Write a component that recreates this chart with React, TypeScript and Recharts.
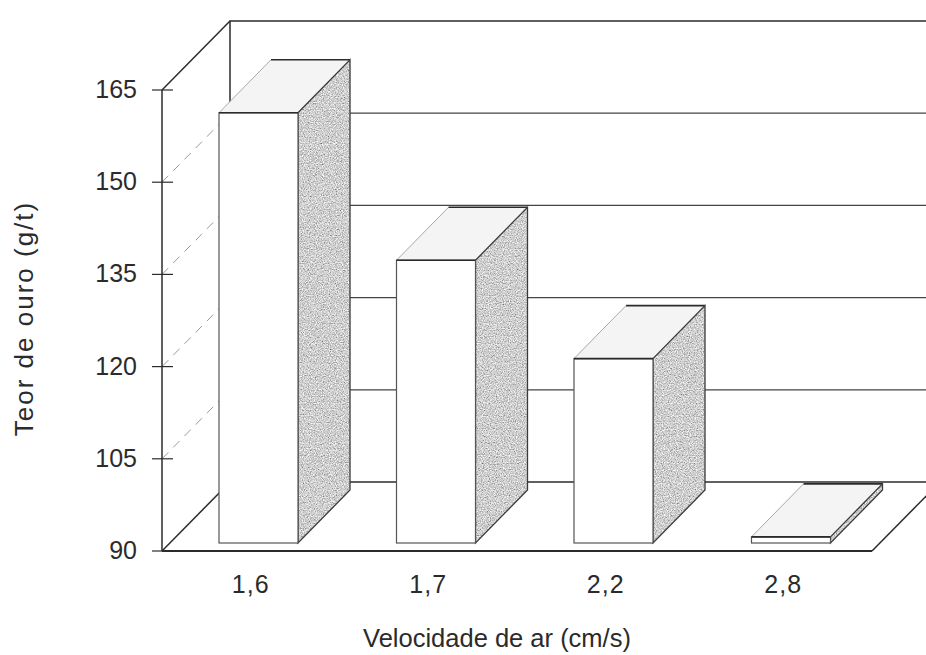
import React from "react";
import { BarChart, Bar, XAxis, YAxis, ReferenceArea, ReferenceLine } from "recharts";

// Teor de ouro no concentrado para cada velocidade de ar
const velocidades = ["1,6", "1,7", "2,2", "2,8"];
const teorOuro = [160, 136, 120, 91];
const yTicks = [90, 105, 120, 135, 150, 165];
const gridValues = [105, 120, 135, 150];

const data = velocidades.map((v, i) => ({ vel: v, teor: teorOuro[i] }));

const FONT = "'Liberation Sans', Arial, sans-serif";
const INK = "#2b2b2b";

// depth of the box (side wall / floor) and of the bars
const WALL_DX = 68;
const WALL_DY = -69;
const BAR_OFF = 8;
const BAR_DX = 52;
const BAR_DY = -53;

// walls + floor outline, drawn from the plot rectangle
const Frame = (props: any) => {
  const { x, y, width, height } = props;
  const x0 = x;
  const x1 = x + width;
  const yTop = y;
  const yBot = y + height;
  const bx0 = x0 + WALL_DX;
  const bx1 = x1 + WALL_DX;
  const byTop = yTop + WALL_DY;
  const byBot = yBot + WALL_DY;
  return (
    <g>
      <defs>
        <filter id="grain" filterUnits="objectBoundingBox" x="0" y="0" width="1" height="1">
          <feTurbulence type="fractalNoise" baseFrequency="0.85" numOctaves="2" seed="7" result="noise" />
          <feColorMatrix
            in="noise"
            type="matrix"
            values="1.2 0 0 0 0.02  1.2 0 0 0 0.02  1.2 0 0 0 0.02  0 0 0 0 1"
            result="gray"
          />
          <feComposite in="gray" in2="SourceGraphic" operator="in" />
        </filter>
      </defs>
      <polyline points={`${bx0},${byBot} ${bx0},${byTop} ${bx1},${byTop}`} fill="none" stroke={INK} strokeWidth={1.5} />
      <line x1={bx0} y1={byBot} x2={bx1} y2={byBot} stroke={INK} strokeWidth={1.5} />
      <line x1={x0} y1={yTop} x2={bx0} y2={byTop} stroke={INK} strokeWidth={1.5} />
      <line x1={x0} y1={yBot} x2={bx0} y2={byBot} stroke={INK} strokeWidth={1.5} />
      <line x1={x1} y1={yBot} x2={bx1} y2={byBot} stroke={INK} strokeWidth={1.5} />
    </g>
  );
};

// dashed run across the side wall, solid line along the back wall
const GridLine3D = (props: any) => {
  const { x1, y1, x2 } = props;
  return (
    <g>
      <line x1={x1} y1={y1} x2={x1 + WALL_DX} y2={y1 + WALL_DY} stroke="#9a9a9a" strokeWidth={1} strokeDasharray="9 7" />
      <line x1={x1 + WALL_DX} y1={y1 + WALL_DY} x2={x2 + WALL_DX} y2={y1 + WALL_DY} stroke="#444" strokeWidth={1.2} />
    </g>
  );
};

const Box3D = (props: any) => {
  const { x, y, width, height } = props;
  const fx = x + BAR_OFF;
  const fy = y - BAR_OFF;
  const fr = fx + width;
  const fb = fy + height;
  const side = `${fr},${fy} ${fr + BAR_DX},${fy + BAR_DY} ${fr + BAR_DX},${fb + BAR_DY} ${fr},${fb}`;
  const top = `${fx},${fy} ${fx + BAR_DX},${fy + BAR_DY} ${fr + BAR_DX},${fy + BAR_DY} ${fr},${fy}`;
  return (
    <g>
      <polygon points={top} fill="#f4f4f4" stroke="none" />
      <line x1={fx} y1={fy} x2={fx + BAR_DX} y2={fy + BAR_DY} stroke="#a8a8a8" strokeWidth={1} />
      <line x1={fx + BAR_DX} y1={fy + BAR_DY} x2={fr + BAR_DX} y2={fy + BAR_DY} stroke={INK} strokeWidth={1.6} />
      <polygon points={side} fill="#a0a0a0" filter="url(#grain)" />
      <polygon points={side} fill="none" stroke="#3a3a3a" strokeWidth={1.3} />
      <rect x={fx} y={fy} width={width} height={height} fill="#fff" stroke="#555" strokeWidth={1.2} />
      <line x1={fx} y1={fy} x2={fr} y2={fy} stroke={INK} strokeWidth={1.6} />
    </g>
  );
};

const YTick = (props: any) => {
  const { x, y, payload } = props;
  return (
    <g>
      <line x1={x - 10} y1={y} x2={x + 11} y2={y} stroke={INK} strokeWidth={1.2} />
      <text x={x - 25} y={y + 8} textAnchor="end" fontSize={25} fontFamily={FONT} fill={INK}>
        {payload.value}
      </text>
    </g>
  );
};

const XTick = (props: any) => {
  const { x, y, payload } = props;
  return (
    <text x={x} y={y + 42} textAnchor="middle" fontSize={25} letterSpacing={1} fontFamily={FONT} fill={INK}>
      {payload.value}
    </text>
  );
};

const XTitle = (props: any) => {
  const vb = props.viewBox;
  return (
    <text x={vb.x + vb.width / 2 - 20} y={vb.y + 96} textAnchor="middle" fontSize={25.5} fontFamily={FONT} fill={INK}>
      Velocidade de ar (cm/s)
    </text>
  );
};

const YTitle = (props: any) => {
  const vb = props.viewBox;
  const cx = vb.x + 33;
  const cy = vb.y + vb.height / 2 - 2;
  return (
    <text
      x={cx}
      y={cy}
      transform={`rotate(-90, ${cx}, ${cy})`}
      textAnchor="middle"
      fontSize={26}
      letterSpacing={2}
      fontFamily={FONT}
      fill={INK}
    >
      Teor de ouro (g/t)
    </text>
  );
};

export default function App() {
  return (
    <div style={{ position: "absolute", left: 0, top: 0, width: 926, height: 655, overflow: "hidden", background: "#fff" }}>
      <BarChart width={950} height={655} data={data} margin={{ top: 90, right: 78, left: 0, bottom: 0 }}>
        <XAxis
          dataKey="vel"
          interval={0}
          height={104}
          axisLine={{ stroke: INK, strokeWidth: 2 }}
          tickLine={false}
          tickSize={0}
          tickMargin={0}
          tick={<XTick />}
          label={{ content: (p: any) => <XTitle {...p} /> }}
        />
        <YAxis
          type="number"
          domain={[90, 165]}
          ticks={yTicks}
          width={162}
          axisLine={{ stroke: INK, strokeWidth: 1.5 }}
          tickLine={false}
          tickSize={0}
          tickMargin={0}
          tick={<YTick />}
          label={{ content: (p: any) => <YTitle {...p} /> }}
        />
        <ReferenceArea y1={90} y2={165} shape={<Frame />} zIndex={-20} />
        {gridValues.map((v) => (
          <ReferenceLine key={v} y={v} shape={<GridLine3D />} zIndex={-10} />
        ))}
        <Bar dataKey="teor" barSize={79} shape={<Box3D />} isAnimationActive={false} />
      </BarChart>
    </div>
  );
}
